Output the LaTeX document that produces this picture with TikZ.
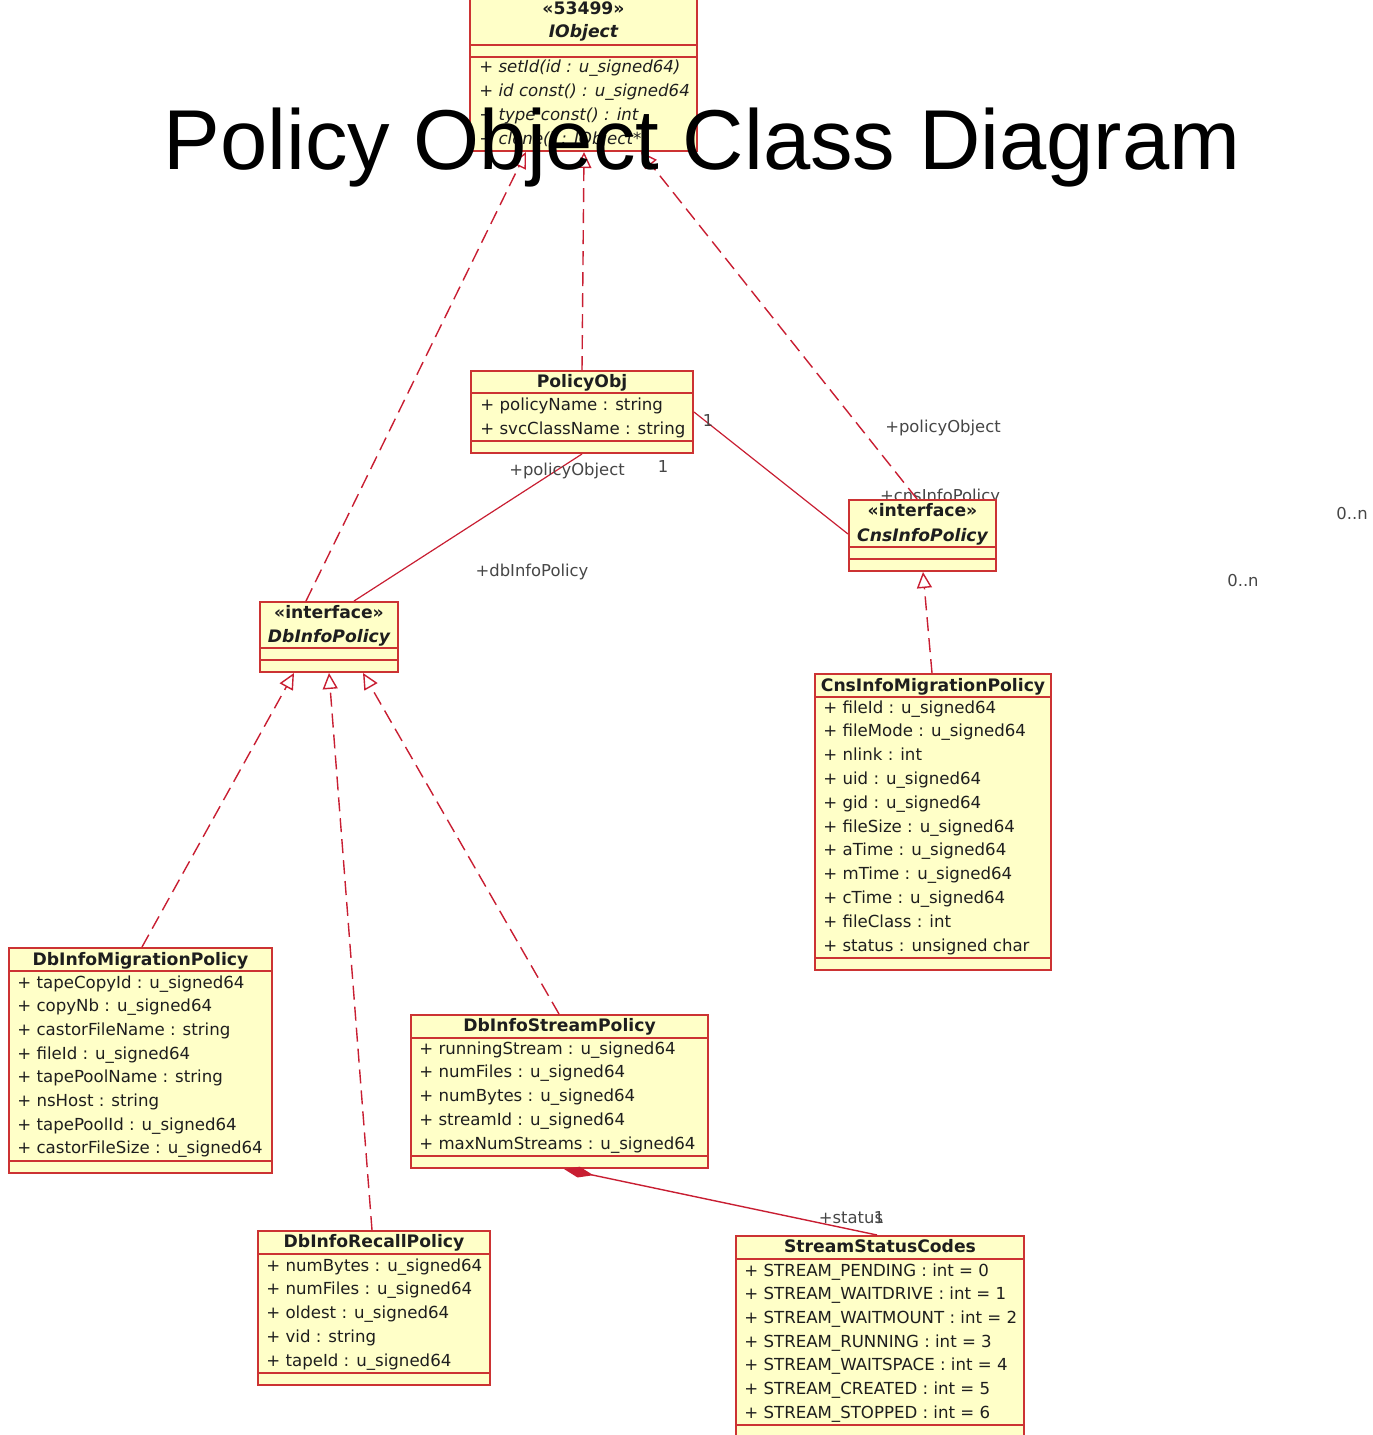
\documentclass[tikz,border=0pt]{standalone}
\usepackage{fontspec}
\setmainfont{DejaVu Sans}
\newfontfamily\titlefont{Liberation Sans}
\usetikzlibrary{arrows.meta,fit,calc}
\definecolor{boxfill}{RGB}{255,255,200}
\definecolor{boxline}{RGB}{204,51,51}
\definecolor{conn}{RGB}{200,30,50}
\definecolor{txt}{RGB}{30,30,30}
\definecolor{lbl}{RGB}{70,70,70}
\newcommand\umlbox[5]{%
  \coordinate (#1-a) at (#2,#3);
  \coordinate (#1-b) at (#4,#5);
  \node[clsbox, fit=(#1-a)(#1-b)] (#1) {};}
\begin{document}
\begin{tikzpicture}[x=0.5pt,y=-0.5pt,
  clsbox/.style={draw=boxline, fill=boxfill, line width=1pt, inner sep=0pt, rectangle},
  sepline/.style={draw=boxline, line width=1pt},
  attr/.style={anchor=base west, inner sep=0pt, font=\fontsize{8.3}{10}\selectfont, text=txt},
  meth/.style={attr, font=\fontsize{8.3}{10}\selectfont\itshape},
  cname/.style={anchor=base, inner sep=0pt, font=\fontsize{8.6}{10}\selectfont\bfseries, text=txt},
  lab/.style={anchor=base, inner sep=0pt, font=\fontsize{8.2}{10}\selectfont, text=lbl},
  gen/.style={draw=conn, line width=0.7pt, dash pattern=on 7pt off 3.5pt, -{Triangle[open, length=8pt, width=7.5pt]}},
  assoc/.style={draw=conn, line width=0.6pt},
  comp/.style={draw=conn, line width=0.7pt, {Diamond[length=15pt, width=5.5pt]}-}
]
\useasboundingbox (0,0) rectangle (1372,1435);

% label partly hidden by the box
\node[lab] (lcns) at (940,501) {+cnsInfoPolicy};

% ---------------- IObject
\umlbox{iobj}{470}{-3}{697}{151}
\draw[sepline] (470,45) -- (697,45);
\draw[sepline] (470,57) -- (697,57);
\node[cname] (iobj-s) at (583.5,14) {«53499»};
\node[cname] (iobj-n) at (583.5,37) {\itshape IObject};
\foreach \t [count=\i] in {+ setId(id : u\_signed64), + id const() : u\_signed64, + type const() : int, + clone() : IObject*}
  \node[meth] (iobj-\i) at ({479},{72+24*(\i-1)}) {\t};

% ---------------- PolicyObj
\umlbox{polo}{471}{371}{693}{453}
\draw[sepline] (471,393) -- (693,393);
\draw[sepline] (471,441) -- (693,441);
\node[cname] (polo-n) at (582,387) {PolicyObj};
\node[attr] (polo-1) at (480,410) {+ policyName : string};
\node[attr] (polo-2) at (480,434) {+ svcClassName : string};

% ---------------- CnsInfoPolicy
\umlbox{cnsp}{849}{500}{996}{571}
\draw[sepline] (849,547) -- (996,547);
\draw[sepline] (849,559) -- (996,559);
\node[cname] (cnsp-s) at (922.5,516) {«interface»};
\node[cname] (cnsp-n) at (922.5,541) {\itshape CnsInfoPolicy};

% ---------------- DbInfoPolicy
\umlbox{dbip}{260}{602}{398}{672}
\draw[sepline] (260,648) -- (398,648);
\draw[sepline] (260,660) -- (398,660);
\node[cname] (dbip-s) at (329,618) {«interface»};
\node[cname] (dbip-n) at (329,642) {\itshape DbInfoPolicy};

% ---------------- CnsInfoMigrationPolicy
\umlbox{cimp}{815}{674}{1051}{970}
\draw[sepline] (815,697) -- (1051,697);
\draw[sepline] (815,958) -- (1051,958);
\node[cname] (cimp-n) at (933,691) {CnsInfoMigrationPolicy};
\foreach \t [count=\i] in {+ fileId : u\_signed64, + fileMode : u\_signed64, + nlink : int, + uid : u\_signed64, + gid : u\_signed64, + fileSize : u\_signed64, + aTime : u\_signed64, + mTime : u\_signed64, + cTime : u\_signed64, + fileClass : int, + status : unsigned char}
  \node[attr] (cimp-\i) at ({823},{713+23.8*(\i-1)}) {\t};

% ---------------- DbInfoMigrationPolicy
\umlbox{dbmp}{9}{948}{272}{1173}
\draw[sepline] (9,971) -- (272,971);
\draw[sepline] (9,1161) -- (272,1161);
\node[cname] (dbmp-n) at (140.5,965) {DbInfoMigrationPolicy};
\foreach \t [count=\i] in {+ tapeCopyId : u\_signed64, + copyNb : u\_signed64, + castorFileName : string, + fileId : u\_signed64, + tapePoolName : string, + nsHost : string, + tapePoolId : u\_signed64, + castorFileSize : u\_signed64}
  \node[attr] (dbmp-\i) at ({17},{988+23.7*(\i-1)}) {\t};

% ---------------- DbInfoStreamPolicy
\umlbox{dbsp}{411}{1015}{708}{1168}
\draw[sepline] (411,1038) -- (708,1038);
\draw[sepline] (411,1156) -- (708,1156);
\node[cname] (dbsp-n) at (559.5,1031) {DbInfoStreamPolicy};
\foreach \t [count=\i] in {+ runningStream : u\_signed64, + numFiles : u\_signed64, + numBytes : u\_signed64, + streamId : u\_signed64, + maxNumStreams : u\_signed64}
  \node[attr] (dbsp-\i) at ({419},{1054+23.75*(\i-1)}) {\t};

% ---------------- DbInfoRecallPolicy
\umlbox{dbrp}{258}{1231}{490}{1385}
\draw[sepline] (258,1254) -- (490,1254);
\draw[sepline] (258,1373) -- (490,1373);
\node[cname] (dbrp-n) at (374,1247) {DbInfoRecallPolicy};
\foreach \t [count=\i] in {+ numBytes : u\_signed64, + numFiles : u\_signed64, + oldest : u\_signed64, + vid : string, + tapeId : u\_signed64}
  \node[attr] (dbrp-\i) at ({266},{1271+23.75*(\i-1)}) {\t};

% ---------------- StreamStatusCodes
\umlbox{ssc}{736}{1236}{1024}{1445}
\draw[sepline] (736,1259) -- (1024,1259);
\draw[sepline] (736,1425) -- (1024,1425);
\node[cname] (ssc-n) at (880,1252) {StreamStatusCodes};
\foreach \t [count=\i] in {+ STREAM\_PENDING : int = 0, + STREAM\_WAITDRIVE : int = 1, + STREAM\_WAITMOUNT : int = 2, + STREAM\_RUNNING : int = 3, + STREAM\_WAITSPACE : int = 4, + STREAM\_CREATED : int = 5, + STREAM\_STOPPED : int = 6}
  \node[attr] (ssc-\i) at ({744},{1276+23.7*(\i-1)}) {\t};

% ---------------- connectors
\draw[gen] ($(dbip.north west)+(47,0)$) -- ($(iobj.south west)+(57,0)$);
\draw[gen] ($(polo.north west)+(112,0)$) -- ($(iobj.south west)+(115,0)$);
\draw[gen] ($(cnsp.north west)+(69,0)$) -- ($(iobj.south west)+(172,0)$);
\draw[gen] ($(cimp.north west)+(118,0)$) -- ($(cnsp.south west)+(75,0)$);
\draw[gen] ($(dbmp.north west)+(134,0)$) -- ($(dbip.south west)+(35,0)$);
\draw[gen] ($(dbrp.north west)+(115,0)$) -- ($(dbip.south west)+(70,0)$);
\draw[gen] ($(dbsp.north west)+(149,0)$) -- ($(dbip.south west)+(104,0)$);
\draw[assoc] ($(polo.south west)+(112,0)$) -- ($(dbip.north west)+(95,0)$);
\draw[assoc] ($(polo.north east)+(0,42)$) -- ($(cnsp.north west)+(0,35)$);
\draw[comp] ($(dbsp.south west)+(154,0)$) -- ($(ssc.north west)+(142,0)$);

% ---------------- labels
\node[lab] (l1) at (567,475) {+policyObject};
\node[lab] (l2) at (663,472) {1};
\node[lab] (l3) at (532,576) {+dbInfoPolicy};
\node[lab] (l4) at (708,426) {1};
\node[lab] (l5) at (943,432) {+policyObject};
\node[lab] (l6) at (1352,519) {0..n};
\node[lab] (l7) at (1243,586) {0..n};
\node[lab] (l8) at (851,1223) {+status};
\node[lab] (l9) at (879,1223) {1};

% ---------------- title
\node[anchor=base west, inner sep=0pt, font=\titlefont\fontsize{42.5}{50}\selectfont] (title) at (163,169) {Policy Object Class Diagram};
\end{tikzpicture}
\end{document}
